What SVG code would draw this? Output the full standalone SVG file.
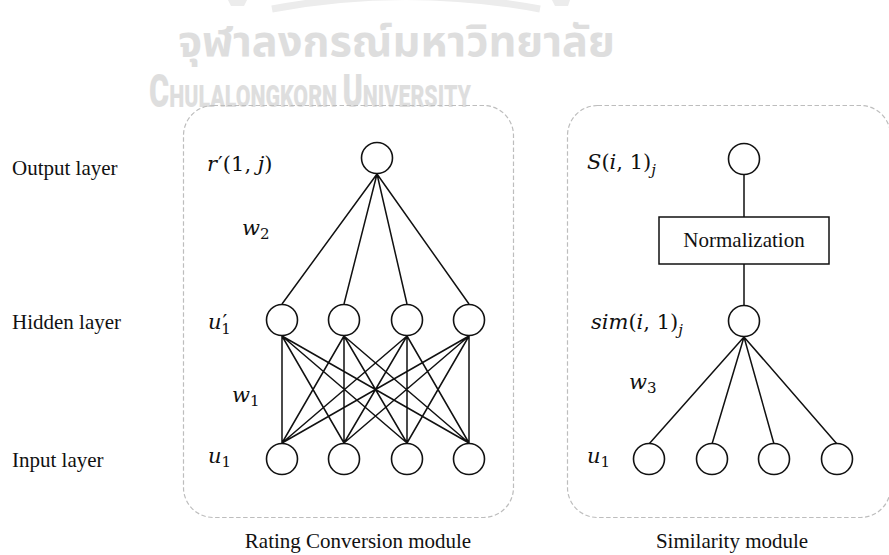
<svg xmlns="http://www.w3.org/2000/svg" width="889" height="555" viewBox="0 0 889 555">
<style>
.lbl{font-family:"Liberation Serif","Times New Roman",serif;font-size:21px;fill:#111}
.m{font-family:"DejaVu Serif","Liberation Serif",serif;font-size:21px;fill:#111}
.it{font-style:italic}
.sub{font-size:15px}
.node{fill:#fff;stroke:#111;stroke-width:1.6}
.edge{stroke:#111;stroke-width:1.5;fill:none}
.module{fill:none;stroke:#bdbdbd;stroke-width:1.2;stroke-dasharray:4.5 2.5}
.wm{fill:#dedede}
</style>
<rect width="889" height="555" fill="#fff"/>
<g id="watermark">
<path d="M 272 9 Q 405 -16 540 9" fill="none" stroke="#ececec" stroke-width="7"/>
<path d="M 228 0 L 247 0 L 244 6 L 231 6 Z" fill="#ececec"/>
<path d="M 552 0 L 570 0 L 568 6 L 555 6 Z" fill="#ececec"/>
<text x="178" y="56" class="wm" font-family="Noto Sans Thai,Noto Sans,DejaVu Sans,sans-serif" font-weight="bold" font-size="42" textLength="437" lengthAdjust="spacingAndGlyphs">จุฬาลงกรณ์มหาวิทยาลัย</text>
<text x="149" y="107" class="wm" font-family="Roboto,Liberation Sans,sans-serif" font-weight="900" textLength="322" lengthAdjust="spacingAndGlyphs"><tspan font-size="46">C</tspan><tspan font-size="32">HULALONGKORN </tspan><tspan font-size="46">U</tspan><tspan font-size="32">NIVERSITY</tspan></text>
</g>
<g id="modules">
<rect id="rating-module" class="module" x="183.5" y="105.5" width="330" height="412" rx="30" ry="30"/>
<rect id="similarity-module" class="module" x="567.5" y="105.5" width="323" height="412" rx="30" ry="30"/>
</g>
<g id="connectors">
<path class="edge" d="M377 174 L282 304 M377 174 L344 304 M377 174 L407 304 M377 174 L469 304"/>
<path class="edge" d="M282 336 L282 443 M282 336 L344 443 M282 336 L407 443 M282 336 L469 443
M344 336 L282 443 M344 336 L344 443 M344 336 L407 443 M344 336 L469 443
M407 336 L282 443 M407 336 L344 443 M407 336 L407 443 M407 336 L469 443
M469 336 L282 443 M469 336 L344 443 M469 336 L407 443 M469 336 L469 443"/>
<path class="edge" d="M744 175 L744 217 M744 264 L744 305"/>
<path class="edge" d="M744 337 L649 444 M744 337 L712 444 M744 337 L774 444 M744 337 L837 444"/>
</g>
<g id="rating-output"><circle class="node" cx="377" cy="158" r="15.5"/></g>
<g id="rating-hidden">
<circle class="node" cx="282" cy="320" r="15.5"/>
<circle class="node" cx="344" cy="320" r="15.5"/>
<circle class="node" cx="407" cy="320" r="15.5"/>
<circle class="node" cx="469" cy="320" r="15.5"/>
</g>
<g id="rating-input">
<circle class="node" cx="282" cy="459" r="15.5"/>
<circle class="node" cx="344" cy="459" r="15.5"/>
<circle class="node" cx="407" cy="459" r="15.5"/>
<circle class="node" cx="469" cy="459" r="15.5"/>
</g>
<g id="sim-output"><circle class="node" cx="744" cy="159" r="15.5"/></g>
<g id="normalization">
<rect x="659" y="217" width="170" height="47" fill="#fff" stroke="#111" stroke-width="1.5"/>
<text x="744" y="247" text-anchor="middle" font-family="Liberation Serif,Times New Roman,serif" font-size="21" fill="#111">Normalization</text>
</g>
<g id="sim-hidden"><circle class="node" cx="744" cy="321" r="15.5"/></g>
<g id="sim-input">
<circle class="node" cx="649" cy="459" r="15.5"/>
<circle class="node" cx="712" cy="459" r="15.5"/>
<circle class="node" cx="774" cy="459" r="15.5"/>
<circle class="node" cx="837" cy="459" r="15.5"/>
</g>
<g id="labels">
<text class="lbl" x="12" y="175">Output layer</text>
<text class="lbl" x="12" y="329">Hidden layer</text>
<text class="lbl" x="12" y="467">Input layer</text>
<text class="m" x="207" y="171"><tspan class="it">r</tspan><tspan dx="1">′</tspan>(1, <tspan class="it">j</tspan>)</text>
<text class="m" x="242" y="235"><tspan class="it">w</tspan><tspan class="sub" dy="4">2</tspan></text>
<text class="m" x="208" y="329"><tspan class="it">u</tspan><tspan dx="1">′</tspan><tspan class="sub" dx="-6" dy="5">1</tspan></text>
<text class="m" x="232" y="402"><tspan class="it">w</tspan><tspan class="sub" dy="4">1</tspan></text>
<text class="m" x="208" y="463"><tspan class="it">u</tspan><tspan class="sub" dy="4">1</tspan></text>
<text class="m" x="587" y="169"><tspan class="it">S</tspan>(<tspan class="it">i</tspan>, 1)<tspan class="sub it" dy="6">j</tspan></text>
<text class="m" x="591" y="329"><tspan class="it">sim</tspan>(<tspan class="it">i</tspan>, 1)<tspan class="sub it" dy="6">j</tspan></text>
<text class="m" x="629" y="389"><tspan class="it">w</tspan><tspan class="sub" dy="4">3</tspan></text>
<text class="m" x="587" y="463"><tspan class="it">u</tspan><tspan class="sub" dy="4">1</tspan></text>
<text class="lbl" x="358" y="548" text-anchor="middle">Rating Conversion module</text>
<text class="lbl" x="732" y="548" text-anchor="middle">Similarity module</text>
</g>
</svg>
